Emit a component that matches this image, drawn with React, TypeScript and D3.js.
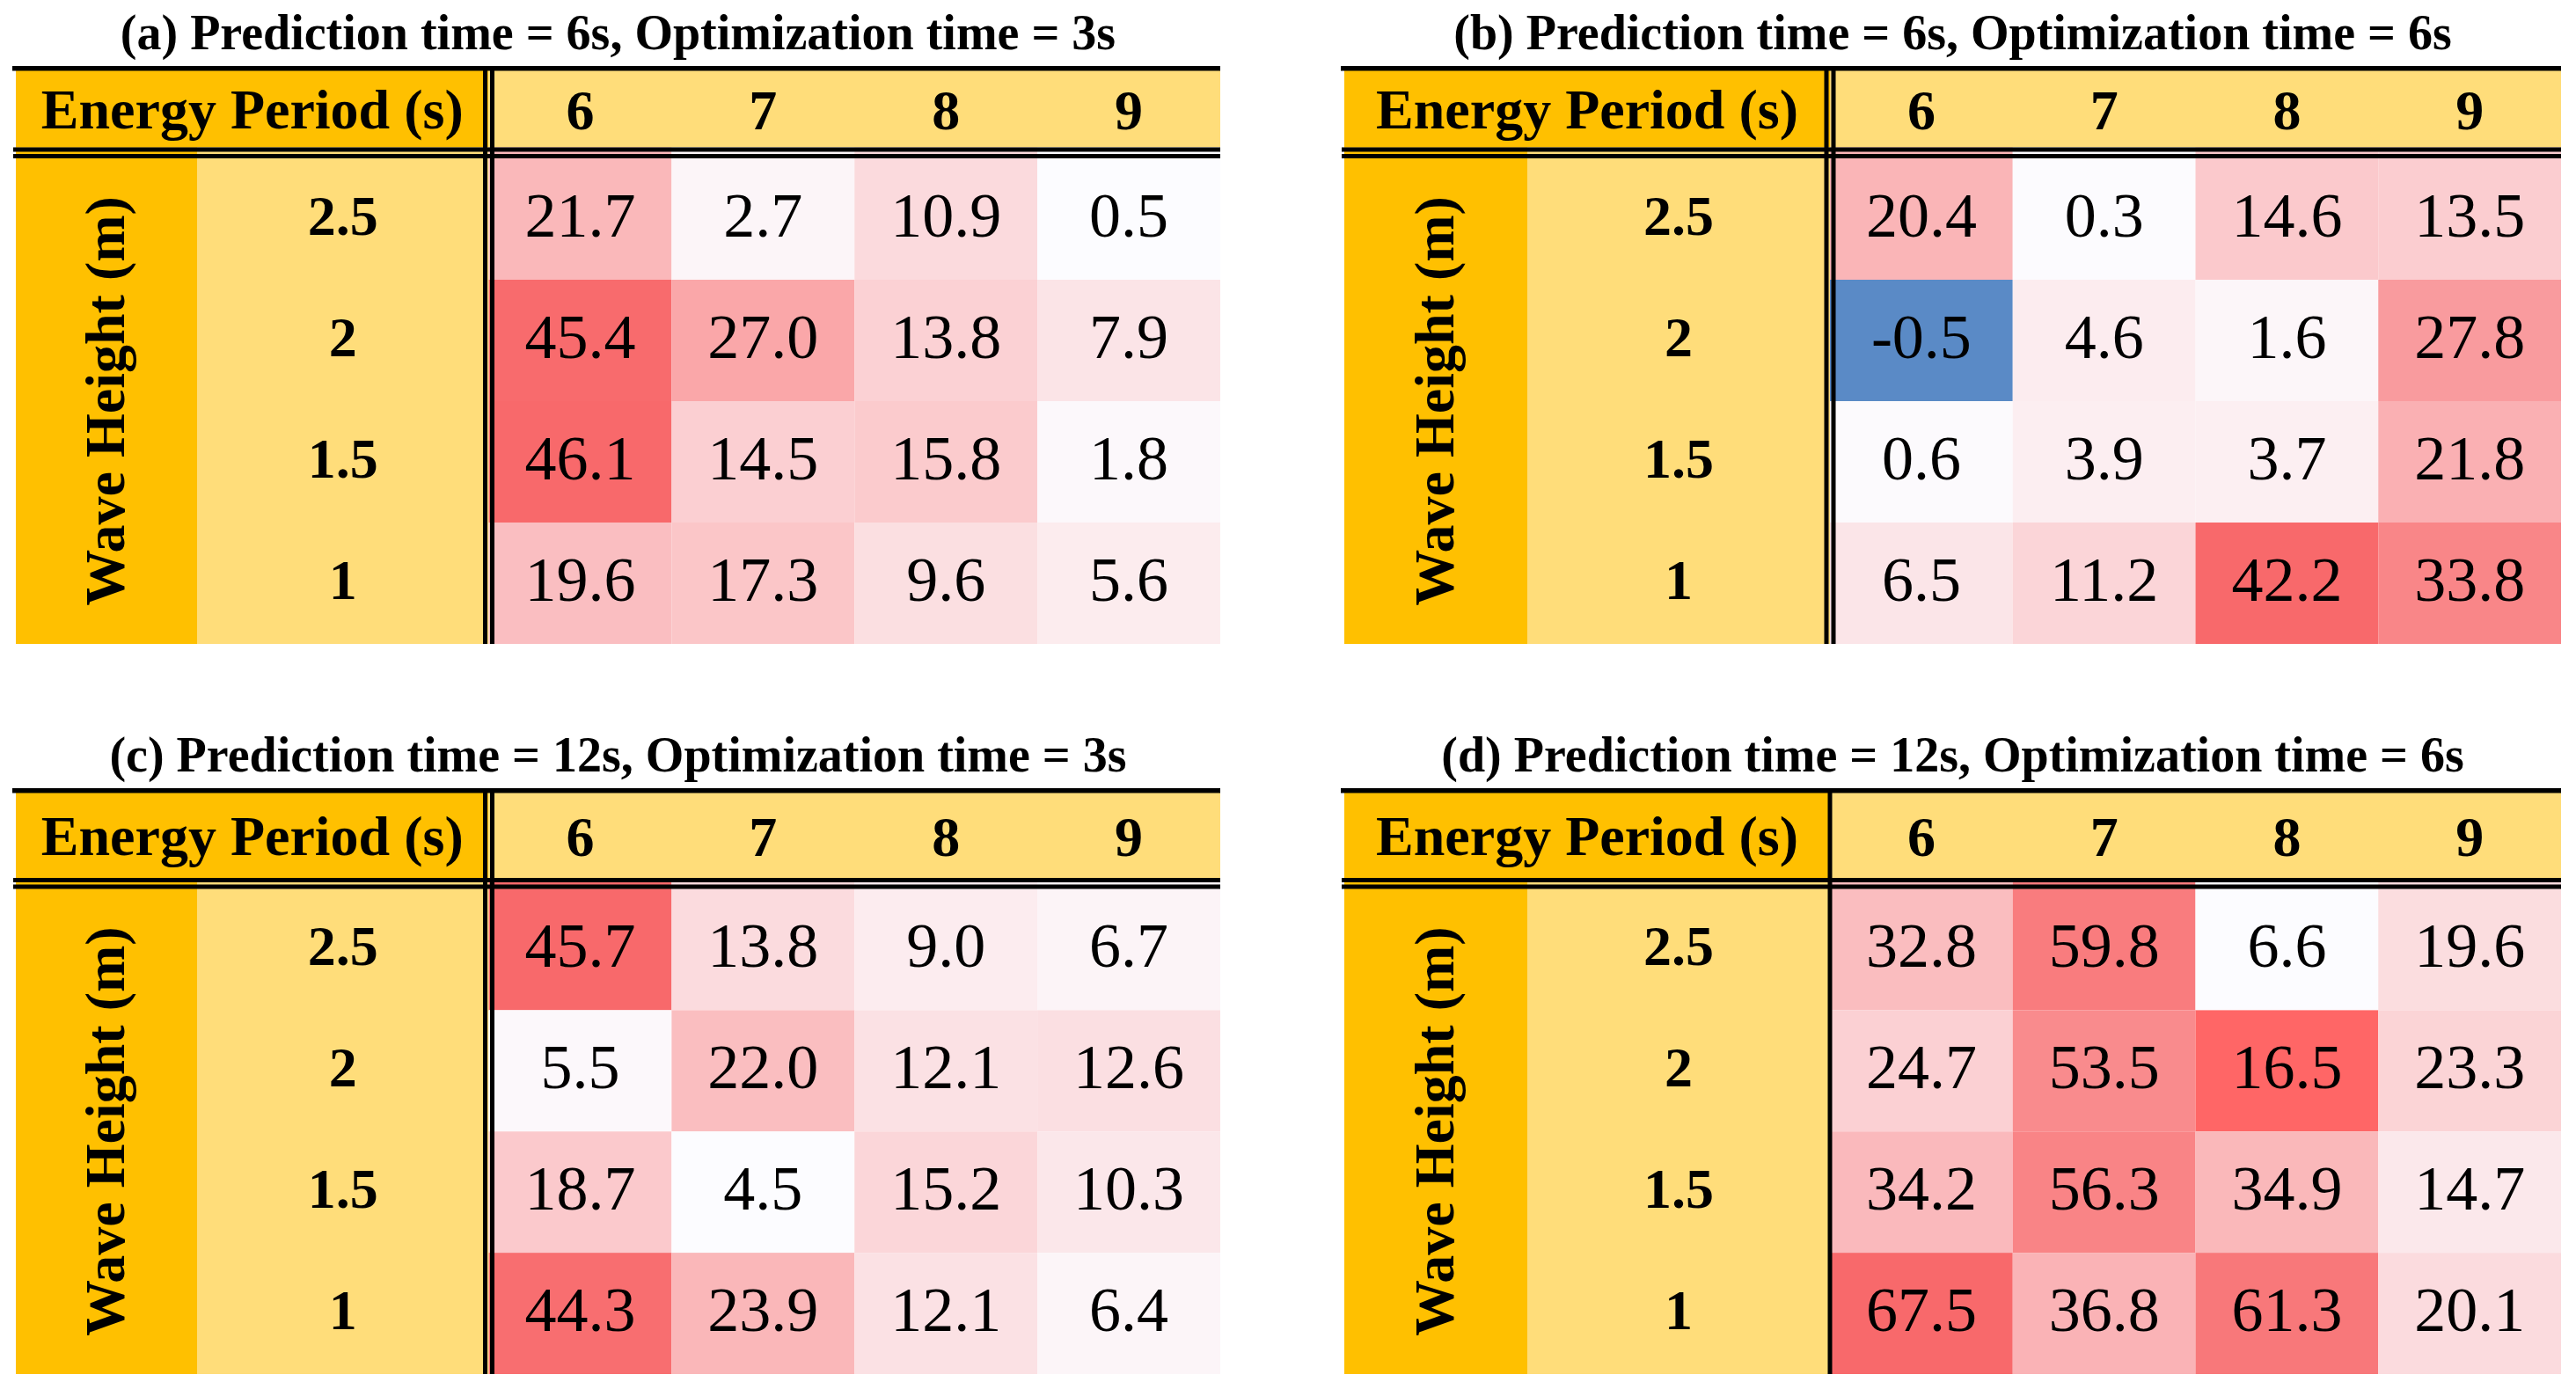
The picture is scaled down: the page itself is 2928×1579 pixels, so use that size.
import * as d3 from "d3";

// table contents
const energyPeriods = ["6", "7", "8", "9"];
const waveHeights = ["2.5", "2", "1.5", "1"];
const panelTitles = [
  "(a) Prediction time = 6s, Optimization time = 3s",
  "(b) Prediction time = 6s, Optimization time = 6s",
  "(c) Prediction time = 12s, Optimization time = 3s",
  "(d) Prediction time = 12s, Optimization time = 6s",
];

// rows: wave height 2.5, 2, 1.5, 1 / cols: energy period 6..9
const valuesA = [
  [21.7, 2.7, 10.9, 0.5],
  [45.4, 27.0, 13.8, 7.9],
  [46.1, 14.5, 15.8, 1.8],
  [19.6, 17.3, 9.6, 5.6],
];
const valuesB = [
  [20.4, 0.3, 14.6, 13.5],
  [-0.5, 4.6, 1.6, 27.8],
  [0.6, 3.9, 3.7, 21.8],
  [6.5, 11.2, 42.2, 33.8],
];
const valuesC = [
  [45.7, 13.8, 9.0, 6.7],
  [5.5, 22.0, 12.1, 12.6],
  [18.7, 4.5, 15.2, 10.3],
  [44.3, 23.9, 12.1, 6.4],
];
const valuesD = [
  [32.8, 59.8, 6.6, 19.6],
  [24.7, 53.5, 16.5, 23.3],
  [34.2, 56.3, 34.9, 14.7],
  [67.5, 36.8, 61.3, 20.1],
];
const panelValues = [valuesA, valuesB, valuesC, valuesD];

// panel (d) uses a single divider line, the others a double one
const doubleDivider = [true, true, true, false];
// one cell in (d) is shaded by hand in the original
const manualFills = [{ panel: 3, row: 1, col: 2, fill: "#FF6666" }];

const W = 2928;
const H = 1579;
const FONT = "'Liberation Serif', 'Times New Roman', serif";
const ORANGE = "#FFC000";
const LIGHT = "#FFDD7A";
const BLUE = "#5A8AC6";
const WHITE = "#FCFCFF";
const RED = "#F8696B";

const colLayouts = [
  { x0: 18, orangeEnd: 224, divider: 555.5, x1: 1387 },
  { x0: 1528, orangeEnd: 1736, divider: 2080, x1: 2911 },
];
const rowLayouts = [
  { titleY: 56, top: 75, headerBottom: 167.5, dataTop: 180, bottom: 732 },
  { titleY: 877, top: 896, headerBottom: 998, dataTop: 1010.5, bottom: 1562 },
];

// plain hyphen for negatives, like the original
const fmt = (v: number) => v.toFixed(1);

function heatScale(vals: number[][]) {
  const flat = vals.flat();
  const lo = d3.min(flat) as number;
  const hi = d3.max(flat) as number;
  return lo < 0
    ? d3.scaleLinear<string>().domain([lo, 0, hi]).range([BLUE, WHITE, RED])
    : d3.scaleLinear<string>().domain([lo, hi]).range([WHITE, RED]);
}

function Panel(props: { index: number }) {
  const { index } = props;
  const cl = colLayouts[index % 2];
  const rl = rowLayouts[Math.floor(index / 2)];
  const vals = panelValues[index];
  const color = heatScale(vals);

  const xScale = d3.scaleBand().domain(energyPeriods).range([cl.divider, cl.x1]);
  const yScale = d3
    .scaleBand()
    .domain(waveHeights)
    .range([rl.dataTop, rl.bottom]);

  const headerTop = rl.top + 5.5;
  const headerMid = (headerTop + rl.headerBottom) / 2;
  const dataMid = (rl.dataTop + rl.bottom) / 2;

  const fillFor = (r: number, c: number) => {
    const m = manualFills.find((f) => f.panel === index && f.row === r && f.col === c);
    return m ? m.fill : color(vals[r][c]);
  };

  return (
    <g>
      <text
        x={(cl.x0 + cl.x1) / 2}
        y={rl.titleY}
        textAnchor="middle"
        fontFamily={FONT}
        fontWeight="bold"
        fontSize={56}
      >
        {panelTitles[index]}
      </text>

      {/* header backgrounds */}
      <rect x={cl.x0} y={rl.top} width={cl.divider - cl.x0} height={rl.headerBottom - rl.top} fill={ORANGE} />
      <rect x={cl.divider} y={rl.top} width={cl.x1 - cl.divider} height={rl.headerBottom - rl.top} fill={LIGHT} />

      {/* row label backgrounds */}
      <rect x={cl.x0} y={rl.headerBottom} width={cl.orangeEnd - cl.x0} height={rl.bottom - rl.headerBottom} fill={ORANGE} />
      <rect x={cl.orangeEnd} y={rl.headerBottom} width={cl.divider - cl.orangeEnd} height={rl.bottom - rl.headerBottom} fill={LIGHT} />

      {/* heat cells */}
      {waveHeights.map((h, r) =>
        energyPeriods.map((p, c) => {
          const x = xScale(p) as number;
          const y = yScale(h) as number;
          const y0 = r === 0 ? rl.headerBottom : y;
          return (
            <rect
              key={`${r}-${c}`}
              x={x}
              y={y0}
              width={xScale.bandwidth()}
              height={y + yScale.bandwidth() - y0}
              fill={fillFor(r, c)}
            />
          );
        })
      )}

      {/* header texts */}
      <text
        x={(cl.x0 + cl.divider) / 2}
        y={headerMid + 22}
        textAnchor="middle"
        fontFamily={FONT}
        fontWeight="bold"
        fontSize={64}
      >
        Energy Period (s)
      </text>
      {energyPeriods.map((p) => (
        <text
          key={p}
          x={(xScale(p) as number) + xScale.bandwidth() / 2}
          y={headerMid + 23}
          textAnchor="middle"
          fontFamily={FONT}
          fontWeight="bold"
          fontSize={64}
        >
          {p}
        </text>
      ))}

      {/* row labels */}
      <text
        transform={`translate(${(cl.x0 + cl.orangeEnd) / 2},${dataMid}) rotate(-90)`}
        dy={20}
        textAnchor="middle"
        fontFamily={FONT}
        fontWeight="bold"
        fontSize={64}
      >
        Wave Height (m)
      </text>
      {waveHeights.map((h) => (
        <text
          key={h}
          x={(cl.orangeEnd + cl.divider) / 2}
          y={(yScale(h) as number) + yScale.bandwidth() / 2 + 18}
          textAnchor="middle"
          fontFamily={FONT}
          fontWeight="bold"
          fontSize={64}
        >
          {h}
        </text>
      ))}

      {/* values */}
      {waveHeights.map((h, r) =>
        energyPeriods.map((p, c) => (
          <text
            key={`t${r}-${c}`}
            x={(xScale(p) as number) + xScale.bandwidth() / 2}
            y={(yScale(h) as number) + yScale.bandwidth() / 2 + 20}
            textAnchor="middle"
            fontFamily={FONT}
            fontSize={72}
          >
            {fmt(vals[r][c])}
          </text>
        ))
      )}

      {/* rules */}
      <rect x={cl.x0 - 4} y={rl.top} width={cl.x1 - cl.x0 + 4} height={5.5} fill="#000" />
      <rect x={cl.x0 - 3} y={rl.headerBottom} width={cl.x1 - cl.x0 + 3} height={5} fill="#000" />
      <rect x={cl.x0 - 3} y={rl.headerBottom + 7.5} width={cl.x1 - cl.x0 + 3} height={5} fill="#000" />
      {doubleDivider[index] ? (
        <>
          <rect x={cl.divider - 6.5} y={rl.top} width={5} height={rl.bottom - rl.top} fill="#000" />
          <rect x={cl.divider + 1.5} y={rl.top} width={5} height={rl.bottom - rl.top} fill="#000" />
        </>
      ) : (
        <rect x={cl.divider - 2.5} y={rl.top} width={5} height={rl.bottom - rl.top} fill="#000" />
      )}
    </g>
  );
}

export default function App() {
  return (
    <svg
      width={W}
      height={H}
      viewBox={`0 0 ${W} ${H}`}
      style={{ position: "absolute", left: 0, top: 0, background: "#fff" }}
    >
      <rect width={W} height={H} fill="#fff" />
      {panelTitles.map((_, i) => (
        <Panel key={i} index={i} />
      ))}
    </svg>
  );
}
